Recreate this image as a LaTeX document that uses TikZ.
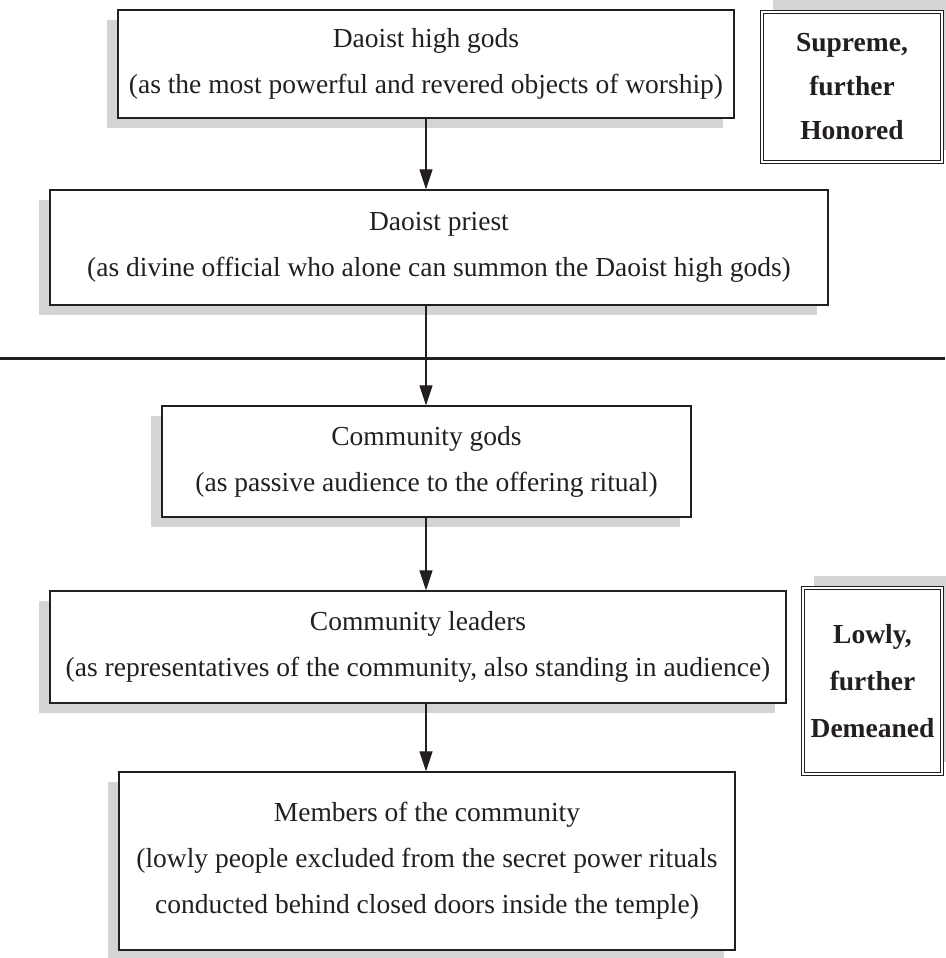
\documentclass[tikz,border=0pt]{standalone}
\usepackage{fontspec}
\setmainfont{Liberation Serif}
\usetikzlibrary{arrows.meta,shadows}
\definecolor{ink}{HTML}{231F20}
\definecolor{shade}{HTML}{D4D4D4}
\begin{document}
\begin{tikzpicture}[x=1pt,y=-1pt,
  box/.style={draw=ink, line width=1.3pt, fill=white, align=center, inner sep=0pt,
    text=ink, font=\fontsize{27.5}{46}\selectfont,
    drop shadow={shadow xshift=-11pt, shadow yshift=-10pt, fill=shade, opacity=1}},
  sidebox/.style={draw=ink, line width=0.8pt, double=white, double distance=1.6pt,
    fill=white, align=center, inner sep=0pt, text=ink,
    font=\fontsize{27.5}{44}\selectfont\bfseries,
    drop shadow={shadow xshift=11pt, shadow yshift=12pt, fill=shade, opacity=1}},
  arr/.style={draw=ink, line width=1.2pt, -{Triangle[length=20pt,width=13pt]}}
]
\useasboundingbox (0,0) rectangle (945,958);
\coordinate (ax) at (426,0);
\coordinate (lineL) at (0,358);
\coordinate (lineR) at (945,358);

\node[box, minimum width=616pt, minimum height=108pt] (b1) at (426,64)
  {Daoist high gods\\(as the most powerful and revered objects of worship)};
\node[box, minimum width=778pt, minimum height=115pt] (b2) at (439,247.5)
  {Daoist priest\\(as divine official who alone can summon the Daoist high gods)};
\node[box, minimum width=529pt, minimum height=111pt] (b3) at (426.5,461.5)
  {Community gods\\(as passive audience to the offering ritual)};
\node[box, minimum width=736pt, minimum height=112pt] (b4) at (418,647)
  {Community leaders\\(as representatives of the community, also standing in audience)};
\node[box, minimum width=616pt, minimum height=178pt] (b5) at (427,861)
  {Members of the community\\(lowly people excluded from the secret power rituals\\conducted behind closed doors inside the temple)};

\node[sidebox, minimum width=180pt, minimum height=150pt] (s1) at (852,87)
  {Supreme,\\further\\Honored};
\node[sidebox, minimum width=139pt, minimum height=186pt, font=\fontsize{27.5}{47}\selectfont\bfseries] (s2) at (872.5,681)
  {Lowly,\\further\\Demeaned};

\draw[ink, line width=3pt] (lineL) -- (lineR);

\draw[arr] (b1.south -| ax) -- (b2.north -| ax);
\draw[arr] (b2.south -| ax) -- (b3.north -| ax);
\draw[arr] (b3.south -| ax) -- (b4.north -| ax);
\draw[arr] (b4.south -| ax) -- (b5.north -| ax);
\end{tikzpicture}
\end{document}
